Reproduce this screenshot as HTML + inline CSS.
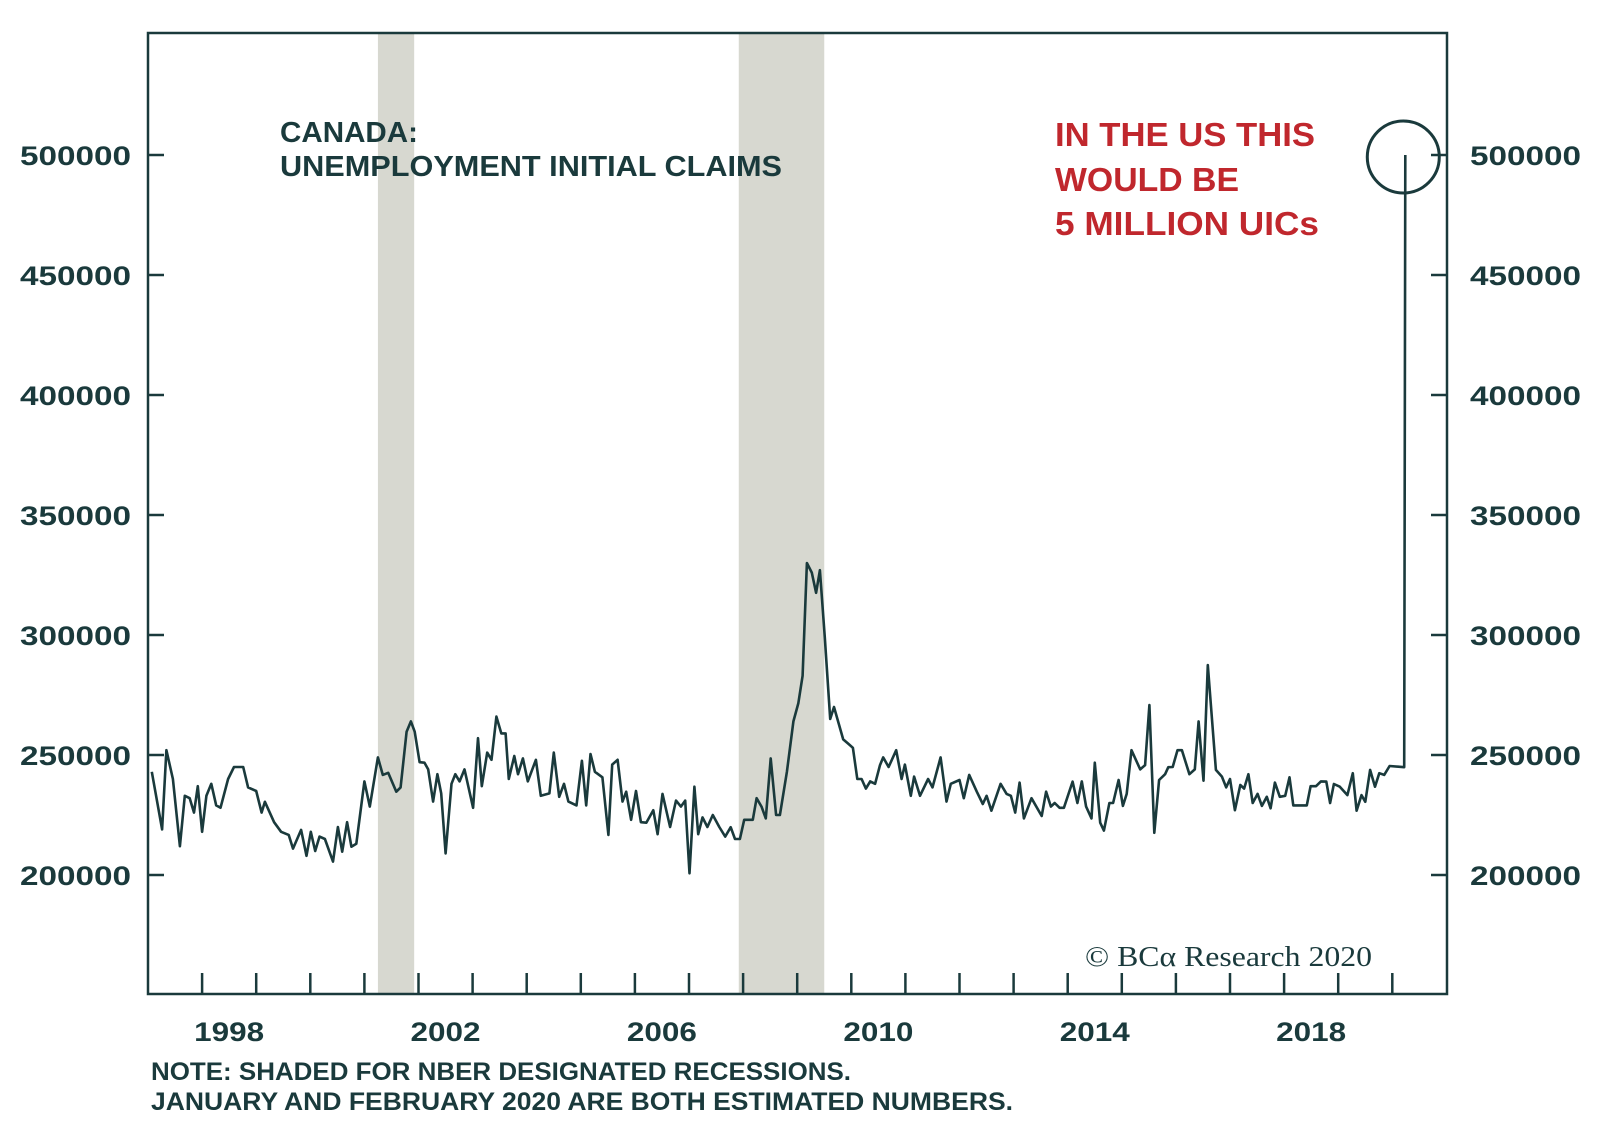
<!DOCTYPE html>
<html><head><meta charset="utf-8">
<style>
html,body{margin:0;padding:0;background:#fff;}
svg{display:block;}
</style></head>
<body>
<div style="position:relative;width:1600px;height:1139px">
<svg id="chart" width="1600" height="1139" viewBox="0 0 1600 1139" xmlns="http://www.w3.org/2000/svg" style="position:absolute;left:0;top:0"></svg>
<svg width="1600" height="1139" xmlns="http://www.w3.org/2000/svg" style="position:absolute;left:0;top:0;pointer-events:none">
<text x="280" y="142" style="font-family:'Liberation Sans',sans-serif;font-size:29px;font-weight:bold" fill="#1a3a3c" textLength="138" lengthAdjust="spacingAndGlyphs">CANADA:</text>
<text x="280" y="176" style="font-family:'Liberation Sans',sans-serif;font-size:29px;font-weight:bold" fill="#1a3a3c" textLength="502" lengthAdjust="spacingAndGlyphs">UNEMPLOYMENT INITIAL CLAIMS</text>
<text x="1055" y="146" style="font-family:'Liberation Sans',sans-serif;font-size:33px;font-weight:bold" fill="#c0272d" textLength="260" lengthAdjust="spacingAndGlyphs">IN THE US THIS</text>
<text x="1055" y="191" style="font-family:'Liberation Sans',sans-serif;font-size:33px;font-weight:bold" fill="#c0272d" textLength="184" lengthAdjust="spacingAndGlyphs">WOULD BE</text>
<text x="1055" y="235" style="font-family:'Liberation Sans',sans-serif;font-size:33px;font-weight:bold" fill="#c0272d" textLength="264" lengthAdjust="spacingAndGlyphs">5 MILLION UICs</text>
<text x="1085" y="966" style="font-family:'Liberation Serif',serif;font-size:29px" fill="#1a3a3c" textLength="287" lengthAdjust="spacingAndGlyphs">© BCα Research 2020</text>
<text x="151" y="1080" style="font-family:'Liberation Sans',sans-serif;font-size:25px;font-weight:bold" fill="#1a3a3c" textLength="700" lengthAdjust="spacingAndGlyphs">NOTE: SHADED FOR NBER DESIGNATED RECESSIONS.</text>
<text x="151" y="1110" style="font-family:'Liberation Sans',sans-serif;font-size:25px;font-weight:bold" fill="#1a3a3c" textLength="862" lengthAdjust="spacingAndGlyphs">JANUARY AND FEBRUARY 2020 ARE BOTH ESTIMATED NUMBERS.</text>
</svg>
</div>
<script>
// ---- data ----
const years = [1997.07,1997.26,1997.34,1997.46,1997.59,1997.68,1997.77,1997.85,1997.92,1998.00,1998.08,1998.17,1998.26,1998.34,1998.48,1998.59,1998.76,1998.85,1999.00,1999.10,1999.16,1999.33,1999.46,1999.60,1999.68,1999.83,1999.93,2000.01,2000.09,2000.17,2000.27,2000.42,2000.51,2000.59,2000.68,2000.76,2000.85,2001.00,2001.10,2001.25,2001.34,2001.44,2001.59,2001.67,2001.78,2001.86,2001.93,2002.02,2002.11,2002.18,2002.27,2002.35,2002.42,2002.50,2002.61,2002.68,2002.76,2002.85,2003.01,2003.10,2003.17,2003.27,2003.35,2003.44,2003.53,2003.61,2003.67,2003.77,2003.84,2003.93,2004.02,2004.17,2004.26,2004.42,2004.50,2004.60,2004.69,2004.77,2004.92,2005.02,2005.10,2005.18,2005.26,2005.40,2005.51,2005.58,2005.68,2005.77,2005.84,2005.93,2006.02,2006.11,2006.21,2006.34,2006.42,2006.51,2006.65,2006.76,2006.85,2006.93,2007.01,2007.10,2007.17,2007.25,2007.34,2007.44,2007.56,2007.67,2007.77,2007.85,2007.94,2008.02,2008.18,2008.25,2008.34,2008.42,2008.51,2008.61,2008.68,2008.81,2008.93,2009.02,2009.10,2009.18,2009.27,2009.35,2009.42,2009.51,2009.61,2009.68,2009.85,2009.95,2010.03,2010.11,2010.19,2010.27,2010.35,2010.44,2010.53,2010.59,2010.69,2010.83,2010.93,2010.99,2011.10,2011.16,2011.27,2011.42,2011.50,2011.65,2011.76,2011.84,2012.00,2012.08,2012.18,2012.32,2012.43,2012.50,2012.59,2012.76,2012.87,2012.95,2013.03,2013.11,2013.19,2013.33,2013.52,2013.60,2013.69,2013.76,2013.85,2013.93,2014.09,2014.18,2014.26,2014.34,2014.44,2014.50,2014.60,2014.67,2014.77,2014.84,2014.94,2015.02,2015.09,2015.18,2015.34,2015.43,2015.51,2015.60,2015.69,2015.80,2015.86,2015.94,2016.03,2016.11,2016.25,2016.35,2016.42,2016.51,2016.59,2016.74,2016.85,2016.93,2017.00,2017.09,2017.19,2017.26,2017.34,2017.42,2017.51,2017.59,2017.68,2017.75,2017.83,2017.92,2018.02,2018.10,2018.17,2018.42,2018.49,2018.59,2018.68,2018.78,2018.85,2018.92,2019.03,2019.17,2019.27,2019.34,2019.43,2019.50,2019.59,2019.68,2019.76,2019.85,2019.95,2020.22,2020.24];
const claims = [243000,219000,252000,240000,212000,233000,232000,226000,237000,218000,233000,238000,229000,228000,240000,245000,245000,236500,235000,226000,230500,222000,218000,216700,211000,218800,208000,218000,210000,216000,215000,205600,220000,209700,222000,211800,213000,239000,228500,249000,241700,242600,234700,236500,259700,264000,259700,247000,246800,244000,230600,242000,234000,209000,238000,242000,239000,244000,228000,257000,237000,251000,248000,266000,259000,259000,240000,249600,242000,248600,239000,248000,233000,234000,251000,232600,238000,230600,229000,247600,229000,250400,243000,240700,216700,246000,248000,230600,234700,223000,235000,222000,221800,227000,217000,233800,220000,231000,228500,231000,200700,236800,217000,224000,220000,225000,220000,216000,219900,215000,215000,223000,223000,232000,228500,223600,248600,225000,225000,243000,264000,271500,283000,330000,326000,317600,327000,299000,265000,270000,256500,254600,253000,240000,240000,236000,239000,238000,245800,249000,245000,252000,240000,246000,233000,241000,233000,240000,236500,249000,230600,238000,239600,232000,241700,234700,229600,233000,226800,238000,233800,233000,226000,238500,223600,232000,224600,234700,228500,230000,228000,228000,238900,230000,239000,228500,223600,246800,221800,218500,230000,230000,239600,228800,233800,252000,244000,245800,270800,217600,239600,242000,244900,245000,252000,252000,242000,244000,264000,239300,287500,243800,241000,236500,240000,227000,237500,236000,242000,230000,233800,228800,232600,227800,238500,232600,233000,240700,229000,229000,237000,237000,239000,238900,230000,237900,236800,233300,242400,226800,233300,230500,243800,236800,242400,241700,245400,244900,500000];
const recessionStart = [2001.25, 2007.92];
const recessionEnd = [2001.92, 2009.50];
const yTicks = [200000,250000,300000,350000,400000,450000,500000];
const xLabelYears = [1998,2002,2006,2010,2014,2018];
const xTickYears = [1998,1999,2000,2001,2002,2003,2004,2005,2006,2007,2008,2009,2010,2011,2012,2013,2014,2015,2016,2017,2018,2019,2020];

// ---- geometry ----
const L=148,R=1447,T=33,B=994;
const X = t => L + (t-1997)*54.1;
const Y = v => 875 - (v-200000)*0.0024;
const ink="#1a3a3c";
const svg=document.getElementById('chart');
const NS="http://www.w3.org/2000/svg";
function mk(tag,attrs,parent){const e=document.createElementNS(NS,tag);for(const k in attrs)e.setAttribute(k,attrs[k]);(parent||svg).appendChild(e);return e;}
const lblStyle="font-family:'Liberation Sans',sans-serif;font-size:27px;font-weight:bold";

recessionStart.forEach((s,i)=>{
  const r=mk('rect',{x:X(s),y:T,width:X(recessionEnd[i])-X(s),height:B-T,fill:"#d7d8d0"});
  
  
});

const fr=mk('rect',{x:L,y:T,width:R-L,height:B-T,fill:"none",stroke:ink,"stroke-width":2.5});



yTicks.forEach(v=>{
  const y=Y(v);
  mk('line',{x1:L,x2:L+16,y1:y,y2:y,stroke:ink,"stroke-width":2.5});
  mk('line',{x1:R-16,x2:R,y1:y,y2:y,stroke:ink,"stroke-width":2.5});
  const a=mk('text',{x:131,y:y+10,"text-anchor":"end",style:lblStyle,fill:ink,textLength:111,lengthAdjust:"spacingAndGlyphs"});
  a.textContent=v;
  
  
  const b=mk('text',{x:1470,y:y+10,style:lblStyle,fill:ink,textLength:111,lengthAdjust:"spacingAndGlyphs"});
  b.textContent=v;
  
  
});

xTickYears.forEach(t=>{
  mk('line',{x1:X(t),x2:X(t),y1:B,y2:B-21,stroke:ink,"stroke-width":2.5});
});
xLabelYears.forEach(t=>{
  const e=mk('text',{x:X(t+0.5),y:1041,"text-anchor":"middle",style:lblStyle,fill:ink,textLength:70,lengthAdjust:"spacingAndGlyphs"});
  e.textContent=t;
  
  
});

const pts=years.map((t,i)=>X(t).toFixed(1)+","+Y(claims[i]).toFixed(1)).join(" ");
const line=mk('polyline',{points:pts,fill:"none",stroke:ink,"stroke-width":2.6,"stroke-linejoin":"round"});



const last=years.length-1;
const c=mk('circle',{cx:X(years[last])-2,cy:Y(claims[last])+2,r:36,fill:"none",stroke:ink,"stroke-width":3});


</script>
</body></html>
